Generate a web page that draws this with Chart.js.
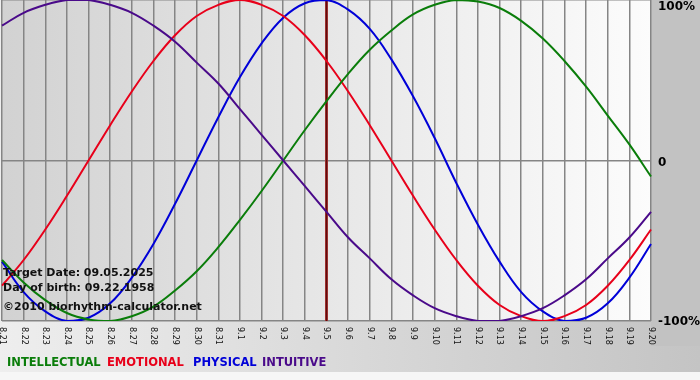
<!DOCTYPE html>
<html>
<head>
<meta charset="utf-8">
<script src="https://cdn.jsdelivr.net/npm/chart.js@4/dist/chart.umd.min.js"></script>
<style>
html,body{margin:0;padding:0;background:#f4f4f4;}
#wrap{position:relative;width:700px;height:380px;}
canvas{display:block;}
</style>
</head>
<body>
<div id="wrap"><canvas id="c" width="700" height="380"></canvas></div>
<script>
// Dates (tick labels)
const dayLabels = ["8.21","8.22","8.23","8.24","8.25","8.26","8.27","8.28","8.29","8.30","8.31",
  "9.1","9.2","9.3","9.4","9.5","9.6","9.7","9.8","9.9","9.10",
  "9.11","9.12","9.13","9.14","9.15","9.16","9.17","9.18","9.19","9.20"];

// Series values (fraction of 100%)
const intellectual = [-0.62,-0.76,-0.87,-0.95,-0.99,-1.00,-0.97,-0.91,-0.81,-0.69,-0.54,
  -0.37,-0.19,0.00,0.19,0.37,0.54,0.69,0.81,0.91,0.97,
  1.00,0.99,0.95,0.87,0.76,0.62,0.46,0.28,0.10,-0.10];
const emotional = [-0.78,-0.62,-0.43,-0.22,0.00,0.22,0.43,0.62,0.78,0.90,0.97,
  1.00,0.97,0.90,0.78,0.62,0.43,0.22,0.00,-0.22,-0.43,
  -0.62,-0.78,-0.90,-0.97,-1.00,-0.97,-0.90,-0.78,-0.62,-0.43];
const physical = [-0.63,-0.82,-0.94,-1.00,-0.98,-0.89,-0.73,-0.52,-0.27,0.00,0.27,
  0.52,0.73,0.89,0.98,1.00,0.94,0.82,0.63,0.40,0.14,
  -0.14,-0.40,-0.63,-0.82,-0.94,-1.00,-0.98,-0.89,-0.73,-0.52];
const intuitive = [0.84,0.92,0.97,1.00,1.00,0.97,0.92,0.84,0.74,0.61,0.48,
  0.32,0.16,0.00,-0.16,-0.32,-0.48,-0.61,-0.74,-0.84,-0.92,
  -0.97,-1.00,-1.00,-0.97,-0.92,-0.84,-0.74,-0.61,-0.48,-0.32];

const yTickLabels = ["100%","0","-100%"];
const targetIndex = 15; // 9.5
const infoLines = ["Target Date: 09.05.2025","Day of birth: 09.22.1958","\u00A92010 biorhythm-calculator.net"];
const legendNames = ["INTELLECTUAL","EMOTIONAL","PHYSICAL","INTUITIVE"];
const colors = {green:"#0a7d0a", red:"#e8001a", blue:"#0000d8", purple:"#4a0a8a"};

const decor = {
  id:'decor',
  beforeDraw(chart){
    const ctx = chart.ctx, a = chart.chartArea;
    ctx.save();
    let g = ctx.createLinearGradient(0,0,700,0);
    g.addColorStop(0,'#eeeeee'); g.addColorStop(1,'#c4c4c4');
    ctx.fillStyle = g; ctx.fillRect(0,0,700,372);
    ctx.fillStyle = '#f6f6f6'; ctx.fillRect(0,372,700,8);
    ctx.fillStyle = '#c2c2c2'; ctx.fillRect(a.right,0,700-a.right,a.bottom+25);
    g = ctx.createLinearGradient(a.left,0,a.right,0);
    g.addColorStop(0,'#d2d2d2'); g.addColorStop(1,'#fcfcfc');
    ctx.fillStyle = g; ctx.fillRect(a.left,a.top,a.right-a.left,a.bottom-a.top);
    ctx.restore();
  },
  beforeDatasetsDraw(chart){
    const ctx = chart.ctx, a = chart.chartArea;
    const x = chart.scales.x.getPixelForValue(targetIndex);
    ctx.save();
    ctx.strokeStyle = '#b03a3a'; ctx.lineWidth = 3;
    ctx.beginPath(); ctx.moveTo(x,a.top); ctx.lineTo(x,a.bottom); ctx.stroke();
    ctx.strokeStyle = '#5e0d0d'; ctx.lineWidth = 1.5;
    ctx.beginPath(); ctx.moveTo(x,a.top); ctx.lineTo(x,a.bottom); ctx.stroke();
    ctx.restore();
  },
  afterDraw(chart){
    const ctx = chart.ctx, a = chart.chartArea, xs = chart.scales.x, ys = chart.scales.y;
    ctx.save();
    // x labels, rotated reading downward
    ctx.fillStyle = '#111';
    ctx.font = '8px "DejaVu Sans"';
    ctx.textAlign = 'left'; ctx.textBaseline = 'middle';
    dayLabels.forEach((l,i)=>{
      const x = xs.getPixelForValue(i);
      ctx.save(); ctx.translate(x, a.bottom+6); ctx.rotate(Math.PI/2);
      ctx.fillText(l,0,0); ctx.restore();
    });
    // y labels
    ctx.font = 'bold 12px "DejaVu Sans"';
    ctx.textBaseline = 'alphabetic';
    ctx.fillStyle = '#000';
    const yv = [1,0,-1];
    const yoff = [10,5,4];
    yTickLabels.forEach((l,i)=>{
      ctx.fillText(l, a.right+7, ys.getPixelForValue(yv[i])+yoff[i]);
    });
    // info text
    ctx.font = 'bold 11px "DejaVu Sans"';
    ctx.fillStyle = '#111';
    const by = [276,291,310];
    infoLines.forEach((t,i)=>ctx.fillText(t,3,by[i]));
    // legend
    ctx.font = 'bold 11.5px "DejaVu Sans"';
    const lc = [colors.green,colors.red,colors.blue,colors.purple];
    const lx = [7,107,193,262];
    legendNames.forEach((n,i)=>{ctx.fillStyle=lc[i]; ctx.fillText(n,lx[i],366);});
    ctx.restore();
  }
};

const ds = (label,data,color)=>({label,data,borderColor:color,borderWidth:2,pointRadius:0,tension:0.4,fill:false});

new Chart(document.getElementById('c'),{
  type:'line',
  data:{labels:dayLabels,datasets:[
    ds('INTUITIVE',intuitive,colors.purple),
    ds('INTELLECTUAL',intellectual,colors.green),
    ds('EMOTIONAL',emotional,colors.red),
    ds('PHYSICAL',physical,colors.blue)
  ]},
  options:{
    responsive:false, animation:false, devicePixelRatio:1,
    layout:{padding:{left:2,right:49,top:0,bottom:59}},
    plugins:{legend:{display:false},tooltip:{enabled:false}},
    scales:{
      x:{type:'category',offset:false,ticks:{display:false},border:{display:false},
         grid:{color:'#858585',lineWidth:1.5,drawTicks:false}},
      y:{min:-1,max:1,ticks:{display:false,stepSize:1},border:{display:false},
         grid:{color:'#858585',lineWidth:1.5,drawTicks:false}}
    }
  },
  plugins:[decor]
});
</script>
</body>
</html>
